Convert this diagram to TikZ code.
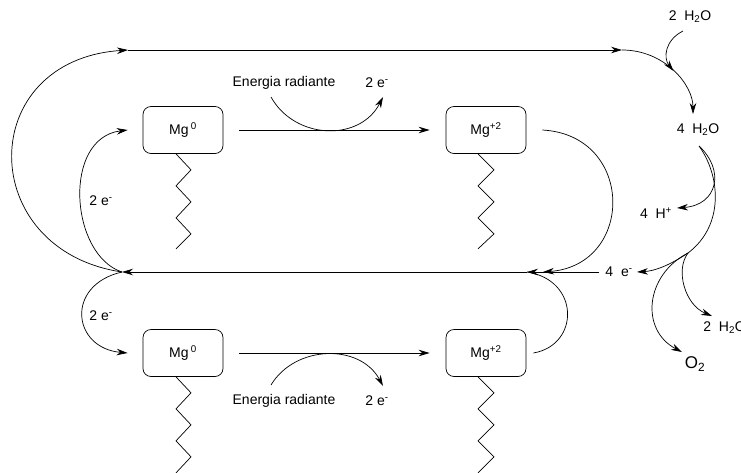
\documentclass[tikz,border=0pt]{standalone}
\usepackage{fontspec}
\setmainfont{Liberation Sans}
\usetikzlibrary{arrows.meta}
\begin{document}
\begin{tikzpicture}[x=1pt,y=-1pt,
  line width=0.7pt,
  arr/.style={-{Stealth[length=11pt,width=6.5pt]}},
  mgbox/.style={draw,rounded corners=8pt,minimum width=80pt,minimum height=47pt,inner sep=0pt},
  lbl/.style={inner sep=0pt,font=\fontsize{14}{16}\selectfont},
  zig/.style={line width=0.7pt}]
\useasboundingbox (0,0) rectangle (741,472);

% boxes
\node[mgbox,lbl] (m1) at (183,130) {Mg\,\textsuperscript{0}};
\node[mgbox,lbl] (m2) at (486,130) {Mg\textsuperscript{+2}};
\node[mgbox,lbl] (m3) at (183,353) {Mg\,\textsuperscript{0}};
\node[mgbox,lbl] (m4) at (486,353) {Mg\textsuperscript{+2}};

% labels
\node[lbl] (er1) at (284,83) {Energia radiante};
\node[lbl] (e1) at (377,83) {2 e\textsuperscript{-}};
\node[lbl] (er2) at (284,401) {Energia radiante};
\node[lbl] (e2) at (377,401) {2 e\textsuperscript{-}};
\node[lbl] (eL1) at (101,201) {2 e\textsuperscript{-}};
\node[lbl] (eL2) at (101,316) {2 e\textsuperscript{-}};
\node[lbl] (wtop) at (690,17) {2~~H\textsubscript{2}O};
\node[lbl] (w4) at (698,130) {4~~H\textsubscript{2}O};
\node[lbl] (hp) at (656,213) {4~~H\textsuperscript{+}};
\node[lbl] (e4) at (619,272) {4~~e\textsuperscript{-}};
\node[lbl,anchor=west] (w2) at (703,328) {2~~H\textsubscript{2}O};
\node[inner sep=0pt,font=\fontsize{17}{19}\selectfont] (o2) at (695,364) {O\textsubscript{2}};

% coordinates
\coordinate (L) at (122,272);
\coordinate (T) at (128,50);
\coordinate (TR) at (622,50);
\coordinate (w4in) at (693,114);
\coordinate (wt1) at (683,31);
\coordinate (wt2) at (673.5,71);
\coordinate (J) at (527,272);
\coordinate (ws) at (699,146);
\coordinate (sp) at (688,253);
\coordinate (hpin) at (677,208);
\coordinate (e4in) at (637,272);
\coordinate (o2in) at (682,352);
\coordinate (w2in) at (712,316);
\coordinate (a1s) at (271,97);
\coordinate (a1e) at (383,97);
\coordinate (a2s) at (271,385);
\coordinate (a2e) at (383,386);
\coordinate (m2r) at (543,272);

% outer loop
\draw[arr] (L) .. controls (-25,250) and (-25,60) .. (T);
\draw[arr] (T) -- (TR);
\draw[arr] (TR) .. controls (665,50) and (693,85) .. (w4in);
\draw[arr] (wt1) .. controls (665,40) and (663,58) .. (wt2);

% left electron arcs
\draw[arr] (L) .. controls (70,255) and (62,138) .. ([xshift=-15pt]m1.west);
\draw[arr] (L) .. controls (65,285) and (72,348) .. ([xshift=-15pt]m3.west);

% Mg0 -> Mg+2
\draw[arr] ([xshift=16pt]m1.east) -- ([xshift=-16pt]m2.west);
\draw[arr] ([xshift=16pt]m3.east) -- ([xshift=-16pt]m4.west);

% radiant energy arcs
\draw[arr] (a1s) .. controls (295,140) and (360,142) .. (a1e);
\draw[arr] (a2s) .. controls (295,345) and (360,343) .. (a2e);

% middle line and right curves
\draw[arr] ([xshift=-6pt]e4.west) -- (J);
\draw[arr] (J) -- (L);
\draw[arr] ([xshift=16pt]m2.east) .. controls (635,135) and (635,265) .. (m2r);
\draw ([xshift=7pt]m4.east) .. controls (580,345) and (580,280) .. (J);

% water splitting
\draw[arr] (ws) .. controls (725,170) and (718,205) .. (hpin);
\draw (ws) .. controls (720,175) and (725,225) .. (sp);
\draw[arr] (sp) .. controls (670,265) and (655,271) .. (e4in);
\draw[arr] (sp) .. controls (645,275) and (640,330) .. (o2in);
\draw[arr] (sp) .. controls (675,270) and (685,305) .. (w2in);

% zigzag chains
\draw[zig] ([xshift=-7pt]m1.south) -- ++(15,16) -- ++(-15,16) -- ++(15,16) -- ++(-15,16) -- ++(15,16) -- ++(-15,15);
\draw[zig] ([xshift=-8pt]m2.south) -- ++(16,16) -- ++(-16,16) -- ++(16,16) -- ++(-16,16) -- ++(16,16) -- ++(-16,15);
\draw[zig] ([xshift=-7pt]m3.south) -- ++(15,16) -- ++(-15,16) -- ++(15,16) -- ++(-15,16) -- ++(15,16) -- ++(-15,16);
\draw[zig] ([xshift=-8pt]m4.south) -- ++(16,16) -- ++(-16,16) -- ++(16,16) -- ++(-16,16) -- ++(16,16) -- ++(-16,16);
\end{tikzpicture}
\end{document}
